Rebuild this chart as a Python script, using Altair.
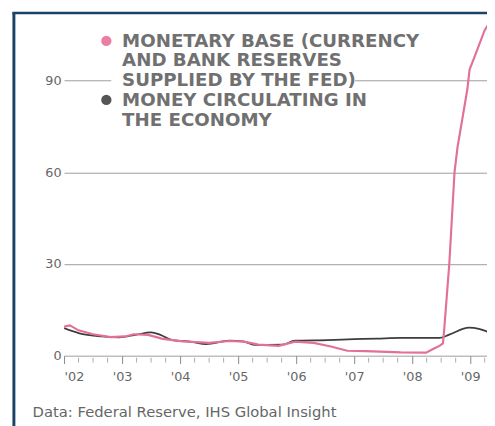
import altair as alt
import pandas as pd

# ---- data (year-over-year % change) ----
base_years = [2002.00, 2002.10, 2002.25, 2002.50, 2002.80, 2003.05, 2003.20, 2003.45,
              2003.70, 2004.05, 2004.50, 2004.85, 2005.10, 2005.35, 2005.70, 2005.98,
              2006.30, 2006.60, 2006.88, 2007.20, 2007.80, 2008.24, 2008.36, 2008.47,
              2008.53, 2008.55, 2008.64, 2008.73, 2008.78, 2008.95, 2008.99, 2009.08,
              2009.25, 2009.40]
base_vals = [9.5, 9.9, 8.3, 7.0, 6.1, 6.3, 7.0, 6.8,
             5.5, 4.7, 4.2, 4.8, 4.6, 3.6, 3.2, 4.6,
             4.2, 3.0, 1.6, 1.5, 1.1, 1.0, 2.2, 3.2,
             4.0, 8.0, 30.0, 60.0, 68.0, 87.0, 93.6, 98.0,
             106.5, 111.0]

circ_years = [2002.00, 2002.25, 2002.65, 2002.95, 2003.25, 2003.50, 2003.65, 2003.85,
              2004.20, 2004.45, 2004.85, 2005.08, 2005.30, 2005.76, 2005.98, 2006.54,
              2007.00, 2007.40, 2007.80, 2008.47, 2008.64, 2008.98, 2009.15, 2009.29,
              2009.40]
circ_vals = [9.0, 7.4, 6.3, 6.0, 6.9, 7.6, 6.9, 5.2,
             4.5, 3.8, 4.9, 4.7, 3.5, 3.6, 4.9, 5.1,
             5.4, 5.6, 5.8, 5.8, 6.9, 9.2, 8.8, 7.9,
             7.5]

year_ticks = [2002, 2003, 2004, 2005, 2006, 2007, 2008, 2009]
quarter_ticks = [y + q / 4 for y in year_ticks for q in (1, 2, 3)]
y_ticks = [0, 30, 60, 90]

legend_lines = ["MONETARY BASE (CURRENCY", "AND BANK RESERVES",
                "SUPPLIED BY THE FED)", "MONEY CIRCULATING IN", "THE ECONOMY"]
footer = "Data: Federal Reserve, IHS Global Insight"

PINK = "#e2709a"
DARK = "#3d3d3d"
NAVY = "#1b4269"
GRID = "#9c9c9c"
TXT = "#666666"
FONT = "DejaVu Sans"

W, H = 430, 348
x_scale = alt.Scale(domain=[2002, 2009.29], nice=False, zero=False)
y_scale = alt.Scale(domain=[0, 112], nice=False)

base_df = pd.DataFrame({"year": base_years, "value": base_vals})
circ_df = pd.DataFrame({"year": circ_years, "value": circ_vals})
q_df = pd.DataFrame({"year": [q for q in quarter_ticks if q <= 2009.29]})
one = pd.DataFrame({"a": [0]})

x_axis = alt.Axis(values=year_ticks, title=None, grid=False, domain=False,
                  tickColor="#888888", tickSize=8, tickWidth=1,
                  labelPadding=7, labelFontSize=13, labelColor=TXT, labelFont=FONT,
                  labelExpr="\"'\" + format(datum.value - 2000, '02d')")
y_axis = alt.Axis(values=y_ticks, title=None, grid=True, gridColor=GRID, gridWidth=1,
                  domain=False, ticks=False, labelPadding=3, labelFontSize=13,
                  labelColor=TXT, labelFont=FONT)

circ_line = alt.Chart(circ_df).mark_line(
    color=DARK, strokeWidth=1.8, interpolate="monotone", clip=True
).encode(
    x=alt.X("year:Q", scale=x_scale, axis=x_axis),
    y=alt.Y("value:Q", scale=y_scale, axis=y_axis),
)

base_line = alt.Chart(base_df).mark_line(
    color=PINK, strokeWidth=2.2, interpolate="linear", clip=True
).encode(
    x=alt.X("year:Q", scale=x_scale),
    y=alt.Y("value:Q", scale=y_scale),
)

minor = alt.Chart(q_df).mark_tick(
    color="#888888", size=5, thickness=1, yOffset=4.5, orient="vertical"
).encode(
    x=alt.X("year:Q", scale=x_scale),
    y=alt.YDatum(0),
)

white_box = alt.Chart(one).mark_rect(color="white").encode(
    x=alt.value(48), x2=alt.value(296), y=alt.value(59), y2=alt.value(77)
)

legend_text = alt.Chart(one).mark_text(
    align="left", baseline="middle", lineBreak="\n", lineHeight=20,
    font=FONT, fontSize=18.5, fontWeight="bold", color="#707070"
).encode(x=alt.value(59), y=alt.value(28), text=alt.value("\n".join(legend_lines)))

pink_dot = alt.Chart(one).mark_point(filled=True, color="#ec7ea5", size=110, opacity=1).encode(
    x=alt.value(43), y=alt.value(28))
dark_dot = alt.Chart(one).mark_point(filled=True, color="#555555", size=110, opacity=1).encode(
    x=alt.value(43), y=alt.value(88))

footer_text = alt.Chart(one).mark_text(
    align="left", baseline="alphabetic", font=FONT, fontSize=15, color=TXT
).encode(x=alt.value(-32), y=alt.value(410), text=alt.value(footer))

left_border = alt.Chart(one).mark_rule(color=NAVY, strokeWidth=3).encode(
    x=alt.value(-51), y=alt.value(-1), y2=alt.value(420))
top_border = alt.Chart(one).mark_rule(color=NAVY, strokeWidth=2.5).encode(
    x=alt.value(-52.5), x2=alt.value(440), y=alt.value(-0.5))

chart = alt.layer(
    circ_line, minor, white_box, base_line, legend_text, pink_dot, dark_dot,
    footer_text, left_border, top_border
).properties(
    width=W, height=H,
    autosize=alt.AutoSizeParams(type="none"),
    padding={"left": 57, "top": 2, "right": 0, "bottom": 68},
    background="white",
).configure_view(stroke=None)

chart.save("out.html", embed_options={"renderer": "svg", "actions": False})
